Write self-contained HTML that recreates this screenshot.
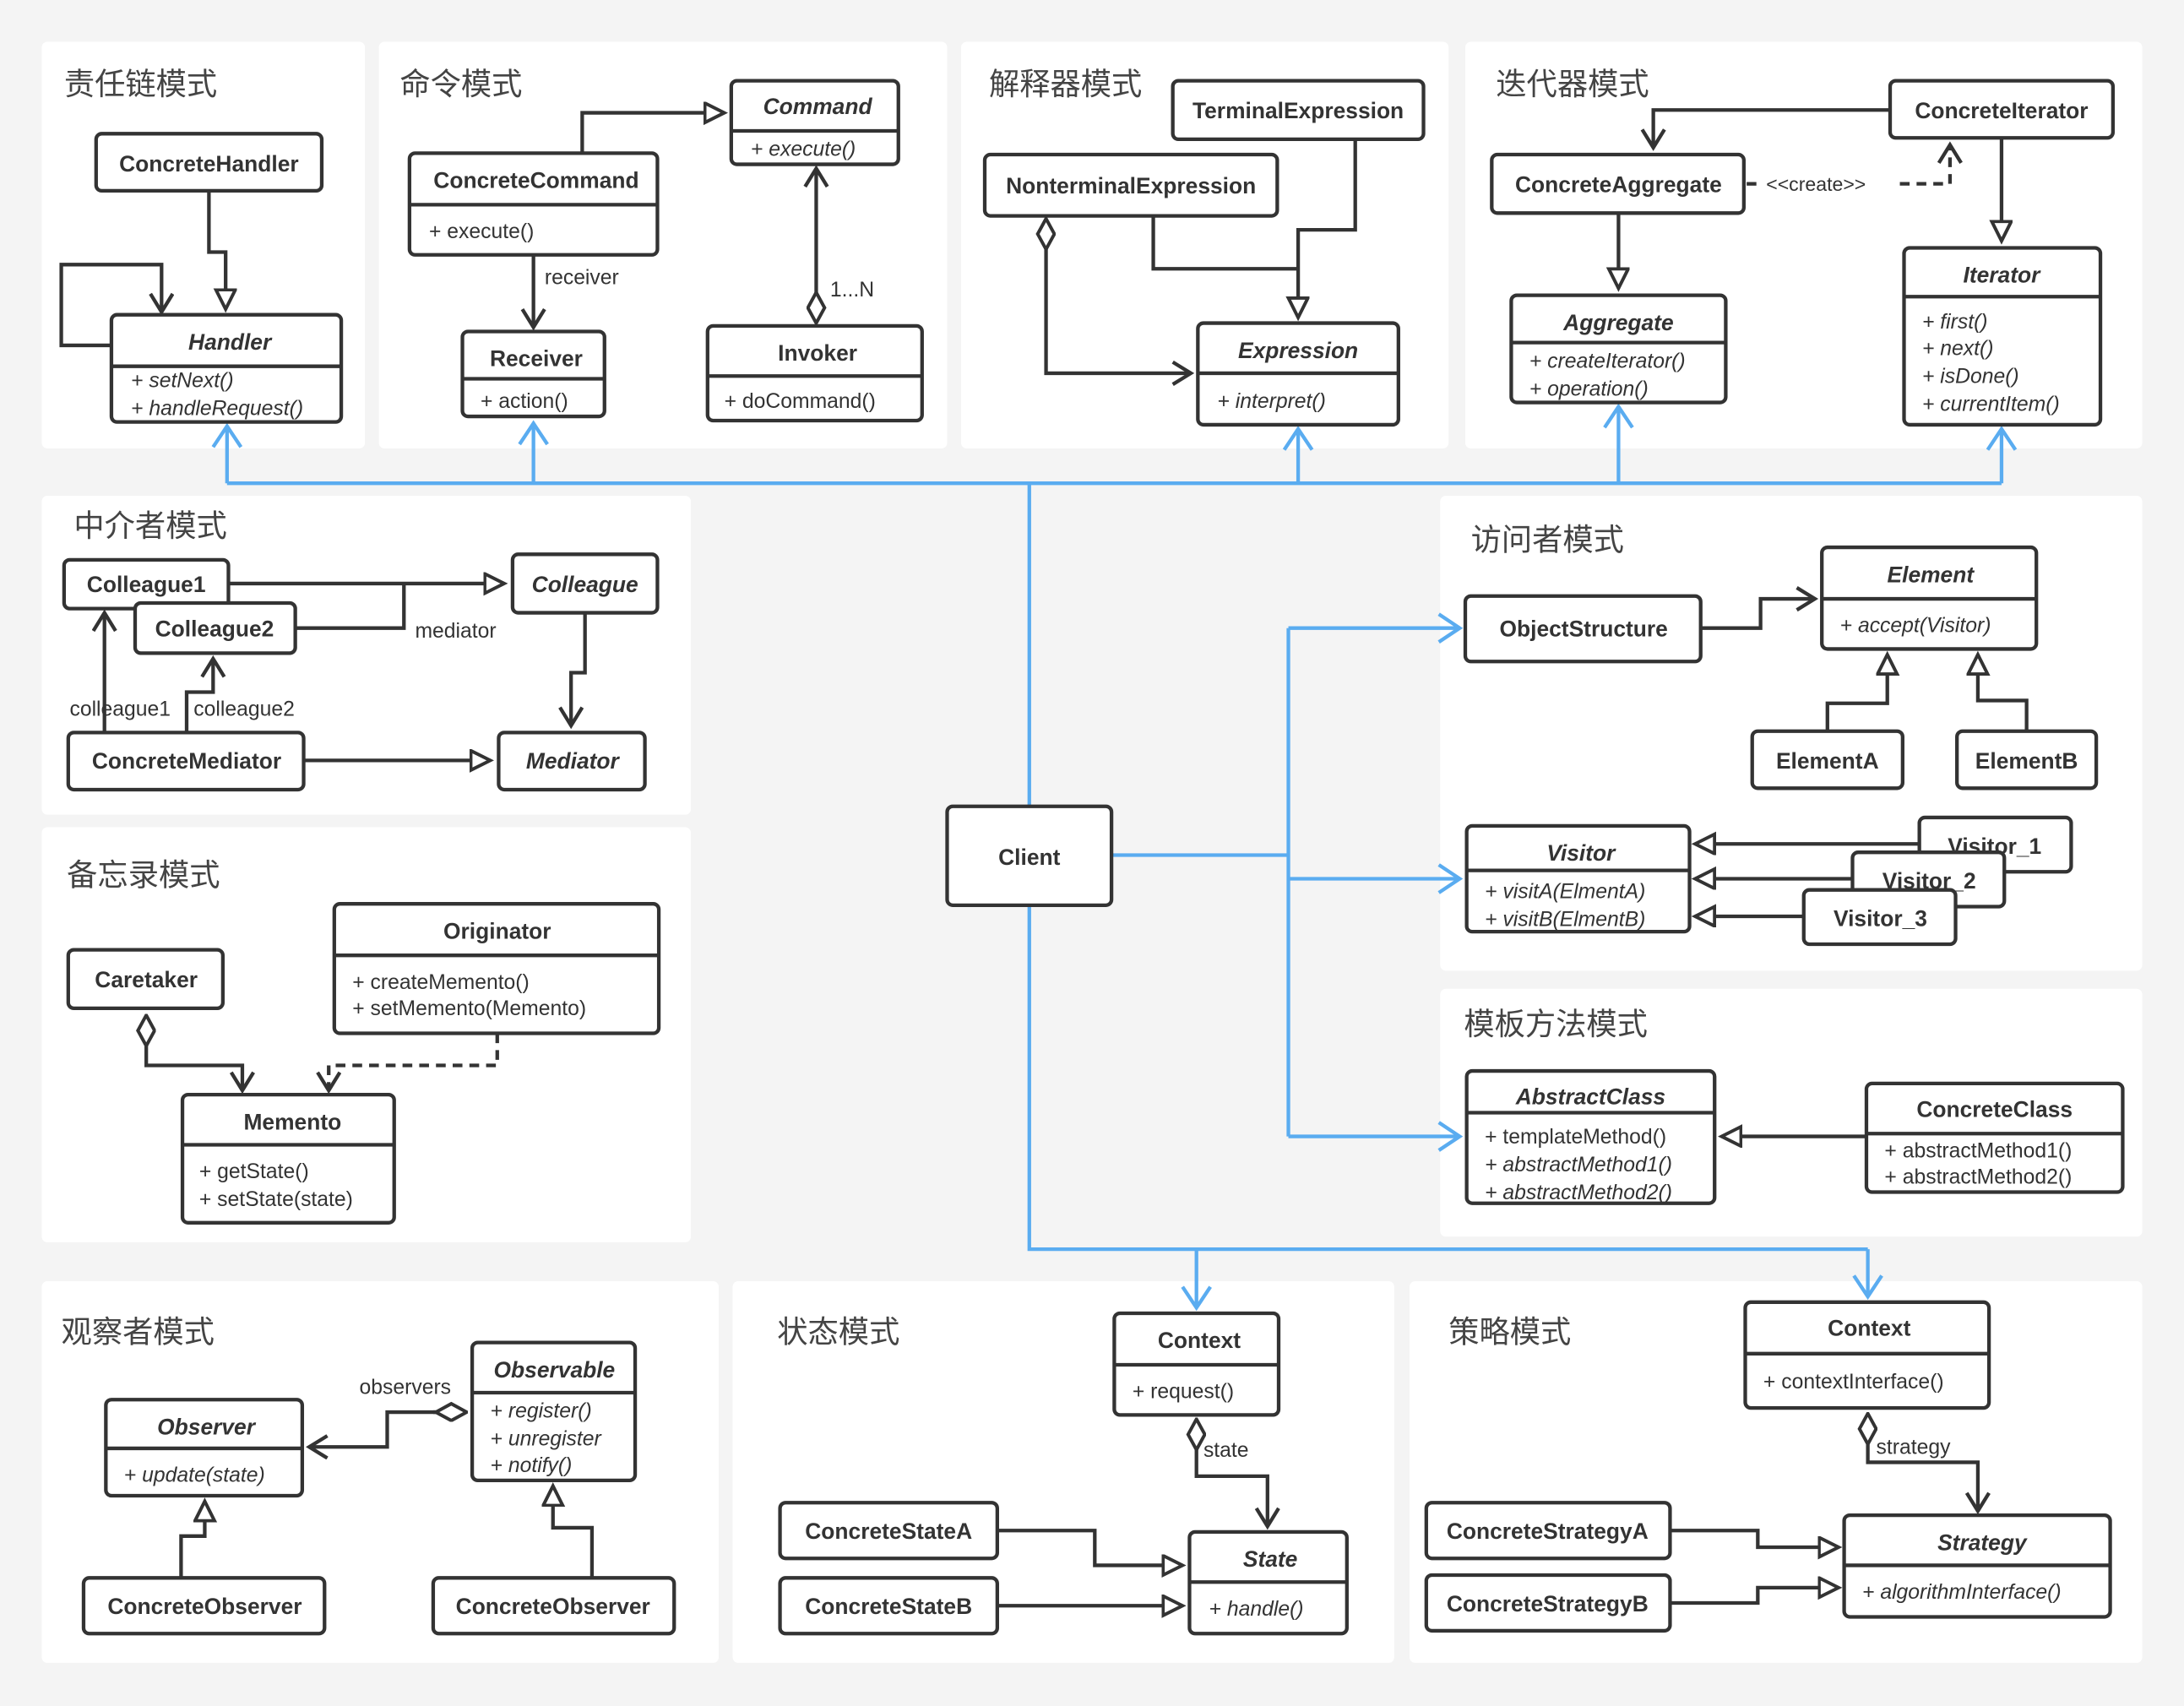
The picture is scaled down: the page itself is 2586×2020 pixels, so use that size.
<!DOCTYPE html>
<html><head><meta charset="utf-8"><style>
html,body{margin:0;padding:0;background:#f4f4f4;}
svg{display:block;}
.p{fill:#fff;}
.b{fill:#fff;stroke:#333;stroke-width:2.6;}
.l{fill:none;stroke:#333;stroke-width:2.6;}
.bl{fill:none;stroke:#5aacf0;stroke-width:2.6;}
.d{stroke-dasharray:7,5;}
text{font-family:"Liberation Sans","Noto Sans CJK SC",sans-serif;fill:#333;}
.n{font-size:16px;font-weight:bold;text-anchor:middle;}
.i{font-style:italic;}
.m{font-size:15px;}
.t{font-size:22px;fill:#444;font-family:"Noto Sans CJK SC","WenQuanYi Zen Hei",sans-serif;}
.s{font-size:15px;}
</style></head><body>
<svg width="2586" height="2020" viewBox="0 0 1568 1225" preserveAspectRatio="none" xmlns="http://www.w3.org/2000/svg">
<defs>
<marker id="tri" markerUnits="userSpaceOnUse" markerWidth="20" markerHeight="20" refX="15" refY="8" orient="auto"><path d="M1,1 L15,8 L1,15 Z" fill="#fff" stroke="#333" stroke-width="2.4"/></marker>
<marker id="arr" markerUnits="userSpaceOnUse" markerWidth="20" markerHeight="20" refX="14" refY="9" orient="auto"><path d="M1,1 L14,9 L1,17" fill="none" stroke="#333" stroke-width="2.6"/></marker>
<marker id="barr" markerUnits="userSpaceOnUse" markerWidth="22" markerHeight="24" refX="16" refY="11" orient="auto"><path d="M1,1 L16,11 L1,21" fill="none" stroke="#5aacf0" stroke-width="2.6"/></marker>
<marker id="dia" markerUnits="userSpaceOnUse" markerWidth="28" markerHeight="16" refX="1" refY="7" orient="auto"><path d="M1,7 L12,1 L23,7 L12,13 Z" fill="#fff" stroke="#333" stroke-width="2.4"/></marker>
</defs>
<rect width="1568" height="1225" fill="#f4f4f4"/>
<!-- panels -->
<rect class="p" x="30" y="30" width="232" height="292" rx="4"/>
<rect class="p" x="272" y="30" width="408" height="292" rx="4"/>
<rect class="p" x="690" y="30" width="350" height="292" rx="4"/>
<rect class="p" x="1052" y="30" width="486" height="292" rx="4"/>
<rect class="p" x="30" y="356" width="466" height="229" rx="4"/>
<rect class="p" x="30" y="594" width="466" height="298" rx="4"/>
<rect class="p" x="1034" y="356" width="504" height="341" rx="4"/>
<rect class="p" x="1034" y="710" width="504" height="178" rx="4"/>
<rect class="p" x="30" y="920" width="486" height="274" rx="4"/>
<rect class="p" x="526" y="920" width="475" height="274" rx="4"/>
<rect class="p" x="1012" y="920" width="526" height="274" rx="4"/>

<!-- titles -->
<text class="t" x="46" y="68">责任链模式</text>
<text class="t" x="287" y="68">命令模式</text>
<text class="t" x="710" y="68">解释器模式</text>
<text class="t" x="1074" y="68">迭代器模式</text>
<text class="t" x="53" y="385">中介者模式</text>
<text class="t" x="48" y="636">备忘录模式</text>
<text class="t" x="1056" y="395">访问者模式</text>
<text class="t" x="1051" y="743">模板方法模式</text>
<text class="t" x="44" y="964">观察者模式</text>
<text class="t" x="558" y="964">状态模式</text>
<text class="t" x="1040" y="964">策略模式</text>

<!-- blue connectors -->
<polyline class="bl" points="163,347 1437,347"/>
<polyline class="bl" points="739,347 739,579"/>
<polyline class="bl" points="163,347 163,306" marker-end="url(#barr)"/>
<polyline class="bl" points="383,347 383,304" marker-end="url(#barr)"/>
<polyline class="bl" points="932,347 932,308" marker-end="url(#barr)"/>
<polyline class="bl" points="1162,347 1162,292" marker-end="url(#barr)"/>
<polyline class="bl" points="1437,347 1437,308" marker-end="url(#barr)"/>
<polyline class="bl" points="798,614 925,614"/>
<polyline class="bl" points="925,451 925,816"/>
<polyline class="bl" points="925,451 1048,451" marker-end="url(#barr)"/>
<polyline class="bl" points="925,631 1048,631" marker-end="url(#barr)"/>
<polyline class="bl" points="925,816 1048,816" marker-end="url(#barr)"/>
<polyline class="bl" points="739,650 739,897 1341,897"/>
<polyline class="bl" points="859,897 859,939" marker-end="url(#barr)"/>
<polyline class="bl" points="1341,897 1341,931" marker-end="url(#barr)"/>
<rect class="b" x="680" y="579" width="118" height="71" rx="4"/>
<text class="n" x="739" y="621">Client</text>

<!-- 责任链 -->
<polyline class="l" points="150,137 150,181 162,181 162,222" marker-end="url(#tri)"/>
<polyline class="l" points="80,248 44,248 44,190 116,190 116,224" marker-end="url(#arr)"/>
<rect class="b" x="69" y="96" width="162" height="41" rx="4"/>
<text class="n" x="150" y="123">ConcreteHandler</text>
<rect class="b" x="80" y="226" width="165" height="77" rx="4"/>
<line class="l" x1="80" y1="263" x2="245" y2="263"/>
<text class="n i" x="165" y="251">Handler</text>
<text class="m i" x="94" y="278">+ setNext()</text>
<text class="m i" x="94" y="298">+ handleRequest()</text>

<!-- 命令 -->
<polyline class="l" points="418,110 418,81 520,81" marker-end="url(#tri)"/>
<polyline class="l" points="383,183 383,235" marker-end="url(#arr)"/>
<text class="s" x="391" y="204">receiver</text>
<polyline class="l" points="586,232 586,121" marker-start="url(#dia)" marker-end="url(#arr)" transform=""/>
<text class="s" x="596" y="213">1...N</text>
<rect class="b" x="294" y="110" width="178" height="73" rx="4"/>
<line class="l" x1="294" y1="147" x2="472" y2="147"/>
<text class="n" x="385" y="135">ConcreteCommand</text>
<text class="m" x="308" y="171">+ execute()</text>
<rect class="b" x="525" y="58" width="120" height="60" rx="4"/>
<line class="l" x1="525" y1="94" x2="645" y2="94"/>
<text class="n i" x="587" y="82">Command</text>
<text class="m i" x="539" y="112">+ execute()</text>
<rect class="b" x="332" y="238" width="102" height="61" rx="4"/>
<line class="l" x1="332" y1="272" x2="434" y2="272"/>
<text class="n" x="385" y="263">Receiver</text>
<text class="m" x="345" y="293">+ action()</text>
<rect class="b" x="508" y="234" width="154" height="68" rx="4"/>
<line class="l" x1="508" y1="270" x2="662" y2="270"/>
<text class="n" x="587" y="259">Invoker</text>
<text class="m" x="520" y="293">+ doCommand()</text>

<!-- 解释器 -->
<polyline class="l" points="973,100 973,165 932,165 932,228" marker-end="url(#tri)"/>
<polyline class="l" points="828,155 828,193 932,193"/>
<polyline class="l" points="751,157 751,268 855,268" marker-start="url(#dia)" marker-end="url(#arr)"/>
<rect class="b" x="842" y="58" width="180" height="42" rx="4"/>
<text class="n" x="932" y="85">TerminalExpression</text>
<rect class="b" x="707" y="111" width="210" height="44" rx="4"/>
<text class="n" x="812" y="139">NonterminalExpression</text>
<rect class="b" x="860" y="232" width="144" height="73" rx="4"/>
<line class="l" x1="860" y1="268" x2="1004" y2="268"/>
<text class="n i" x="932" y="257">Expression</text>
<text class="m i" x="874" y="293">+ interpret()</text>

<!-- 迭代器 -->
<polyline class="l" points="1357,79 1187,79 1187,106" marker-end="url(#arr)"/>
<polyline class="l d" points="1254,132 1264,132"/>
<polyline class="l d" points="1364,132 1400,132 1400,104" marker-end="url(#arr)"/>
<text class="s" x="1268" y="137" style="font-size:14px">&lt;&lt;create&gt;&gt;</text>
<polyline class="l" points="1162,153 1162,207" marker-end="url(#tri)"/>
<polyline class="l" points="1437,99 1437,173" marker-end="url(#tri)"/>
<rect class="b" x="1357" y="58" width="160" height="41" rx="4"/>
<text class="n" x="1437" y="85">ConcreteIterator</text>
<rect class="b" x="1071" y="111" width="181" height="42" rx="4"/>
<text class="n" x="1162" y="138">ConcreteAggregate</text>
<rect class="b" x="1085" y="212" width="154" height="77" rx="4"/>
<line class="l" x1="1085" y1="246" x2="1239" y2="246"/>
<text class="n i" x="1162" y="237">Aggregate</text>
<text class="m i" x="1098" y="264">+ createIterator()</text>
<text class="m i" x="1098" y="284">+ operation()</text>
<rect class="b" x="1367" y="178" width="141" height="127" rx="4"/>
<line class="l" x1="1367" y1="213" x2="1508" y2="213"/>
<text class="n i" x="1437" y="203">Iterator</text>
<text class="m i" x="1380" y="236">+ first()</text>
<text class="m i" x="1380" y="255">+ next()</text>
<text class="m i" x="1380" y="275">+ isDone()</text>
<text class="m i" x="1380" y="295">+ currentItem()</text>

<!-- 中介者 -->
<polyline class="l" points="164,419 362,419" marker-end="url(#tri)"/>
<polyline class="l" points="212,451 290,451 290,419"/>
<text class="s" x="298" y="458">mediator</text>
<polyline class="l" points="420,440 420,483 410,483 410,521" marker-end="url(#arr)"/>
<polyline class="l" points="218,546 352,546" marker-end="url(#tri)"/>
<polyline class="l" points="75,526 75,440" marker-end="url(#arr)"/>
<polyline class="l" points="134,526 134,497 153,497 153,473" marker-end="url(#arr)"/>
<text class="s" x="50" y="514">colleague1</text>
<text class="s" x="139" y="514">colleague2</text>
<rect class="b" x="46" y="402" width="118" height="35" rx="4"/>
<text class="n" x="105" y="425">Colleague1</text>
<rect class="b" x="97" y="433" width="115" height="36" rx="4"/>
<text class="n" x="154" y="457">Colleague2</text>
<rect class="b" x="368" y="398" width="104" height="42" rx="4"/>
<text class="n i" x="420" y="425">Colleague</text>
<rect class="b" x="49" y="526" width="169" height="41" rx="4"/>
<text class="n" x="134" y="552">ConcreteMediator</text>
<rect class="b" x="358" y="526" width="105" height="41" rx="4"/>
<text class="n i" x="411" y="552">Mediator</text>

<!-- 备忘录 -->
<polyline class="l" points="105,729 105,765 174,765 174,783" marker-start="url(#dia)" marker-end="url(#arr)"/>
<polyline class="l d" points="357,742 357,765 236,765 236,783" marker-end="url(#arr)"/>
<rect class="b" x="49" y="682" width="111" height="42" rx="4"/>
<text class="n" x="105" y="709">Caretaker</text>
<rect class="b" x="240" y="649" width="233" height="93" rx="4"/>
<line class="l" x1="240" y1="686" x2="473" y2="686"/>
<text class="n" x="357" y="674">Originator</text>
<text class="m" x="253" y="710">+ createMemento()</text>
<text class="m" x="253" y="729">+ setMemento(Memento)</text>
<rect class="b" x="131" y="786" width="152" height="92" rx="4"/>
<line class="l" x1="131" y1="822" x2="283" y2="822"/>
<text class="n" x="210" y="811">Memento</text>
<text class="m" x="143" y="846">+ getState()</text>
<text class="m" x="143" y="866">+ setState(state)</text>

<!-- 访问者 -->
<polyline class="l" points="1221,451 1264,451 1264,430 1303,430" marker-end="url(#arr)"/>
<polyline class="l" points="1312,525 1312,505 1355,505 1355,470" marker-end="url(#tri)"/>
<polyline class="l" points="1455,525 1455,503 1420,503 1420,470" marker-end="url(#tri)"/>
<polyline class="l" points="1378,606 1217,606" marker-end="url(#tri)"/>
<polyline class="l" points="1330,631 1217,631" marker-end="url(#tri)"/>
<polyline class="l" points="1295,658 1217,658" marker-end="url(#tri)"/>
<rect class="b" x="1052" y="428" width="169" height="47" rx="4"/>
<text class="n" x="1137" y="457">ObjectStructure</text>
<rect class="b" x="1308" y="393" width="154" height="73" rx="4"/>
<line class="l" x1="1308" y1="430" x2="1462" y2="430"/>
<text class="n i" x="1386" y="418">Element</text>
<text class="m i" x="1321" y="454">+ accept(Visitor)</text>
<rect class="b" x="1258" y="525" width="108" height="41" rx="4"/>
<text class="n" x="1312" y="552">ElementA</text>
<rect class="b" x="1405" y="525" width="100" height="41" rx="4"/>
<text class="n" x="1455" y="552">ElementB</text>
<rect class="b" x="1053" y="593" width="160" height="76" rx="4"/>
<line class="l" x1="1053" y1="625" x2="1213" y2="625"/>
<text class="n i" x="1135" y="618">Visitor</text>
<text class="m i" x="1066" y="645">+ visitA(ElmentA)</text>
<text class="m i" x="1066" y="665">+ visitB(ElmentB)</text>
<rect class="b" x="1378" y="587" width="109" height="39" rx="4"/>
<text class="n" x="1432" y="613">Visitor_1</text>
<rect class="b" x="1330" y="612" width="109" height="39" rx="4"/>
<text class="n" x="1385" y="638">Visitor_2</text>
<rect class="b" x="1295" y="639" width="109" height="39" rx="4"/>
<text class="n" x="1350" y="665">Visitor_3</text>

<!-- 模板 -->
<polyline class="l" points="1340,816 1236,816" marker-end="url(#tri)"/>
<rect class="b" x="1053" y="769" width="178" height="95" rx="4"/>
<line class="l" x1="1053" y1="799" x2="1231" y2="799"/>
<text class="n i" x="1142" y="793">AbstractClass</text>
<text class="m" x="1066" y="821">+ templateMethod()</text>
<text class="m i" x="1066" y="841">+ abstractMethod1()</text>
<text class="m i" x="1066" y="861">+ abstractMethod2()</text>
<rect class="b" x="1340" y="778" width="184" height="78" rx="4"/>
<line class="l" x1="1340" y1="814" x2="1524" y2="814"/>
<text class="n" x="1432" y="802">ConcreteClass</text>
<text class="m" x="1353" y="831">+ abstractMethod1()</text>
<text class="m" x="1353" y="850">+ abstractMethod2()</text>

<!-- 观察者 -->
<polyline class="l" points="335,1014 278,1014 278,1039 222,1039" marker-start="url(#dia)" marker-end="url(#arr)"/>
<polyline class="l" points="335,1014 311,1014" marker-start="url(#dia)"/>
<text class="s" x="258" y="1001">observers</text>
<polyline class="l" points="130,1133 130,1103 147,1103 147,1078" marker-end="url(#tri)"/>
<polyline class="l" points="425,1133 425,1097 397,1097 397,1067" marker-end="url(#tri)"/>
<rect class="b" x="339" y="964" width="117" height="99" rx="4"/>
<line class="l" x1="339" y1="1000" x2="456" y2="1000"/>
<text class="n i" x="398" y="989">Observable</text>
<text class="m i" x="352" y="1018">+ register()</text>
<text class="m i" x="352" y="1038">+ unregister</text>
<text class="m i" x="352" y="1057">+ notify()</text>
<rect class="b" x="76" y="1005" width="141" height="69" rx="4"/>
<line class="l" x1="76" y1="1040" x2="217" y2="1040"/>
<text class="n i" x="148" y="1030">Observer</text>
<text class="m i" x="89" y="1064">+ update(state)</text>
<rect class="b" x="60" y="1133" width="173" height="40" rx="4"/>
<text class="n" x="147" y="1159">ConcreteObserver</text>
<rect class="b" x="311" y="1133" width="173" height="40" rx="4"/>
<text class="n" x="397" y="1159">ConcreteObserver</text>

<!-- 状态 -->
<polyline class="l" points="859,1019 859,1060 910,1060 910,1096" marker-start="url(#dia)" marker-end="url(#arr)"/>
<text class="s" x="864" y="1046">state</text>
<polyline class="l" points="716,1099 786,1099 786,1124 849,1124" marker-end="url(#tri)"/>
<polyline class="l" points="716,1153 849,1153" marker-end="url(#tri)"/>
<rect class="b" x="800" y="943" width="118" height="73" rx="4"/>
<line class="l" x1="800" y1="980" x2="918" y2="980"/>
<text class="n" x="861" y="968">Context</text>
<text class="m" x="813" y="1004">+ request()</text>
<rect class="b" x="854" y="1100" width="113" height="73" rx="4"/>
<line class="l" x1="854" y1="1136" x2="967" y2="1136"/>
<text class="n i" x="912" y="1125">State</text>
<text class="m i" x="868" y="1160">+ handle()</text>
<rect class="b" x="560" y="1079" width="156" height="40" rx="4"/>
<text class="n" x="638" y="1105">ConcreteStateA</text>
<rect class="b" x="560" y="1133" width="156" height="40" rx="4"/>
<text class="n" x="638" y="1159">ConcreteStateB</text>

<!-- 策略 -->
<polyline class="l" points="1341,1015 1341,1050 1420,1050 1420,1085" marker-start="url(#dia)" marker-end="url(#arr)"/>
<text class="s" x="1347" y="1044">strategy</text>
<polyline class="l" points="1199,1099 1262,1099 1262,1111 1320,1111" marker-end="url(#tri)"/>
<polyline class="l" points="1199,1151 1262,1151 1262,1140 1320,1140" marker-end="url(#tri)"/>
<rect class="b" x="1253" y="935" width="175" height="76" rx="4"/>
<line class="l" x1="1253" y1="972" x2="1428" y2="972"/>
<text class="n" x="1342" y="959">Context</text>
<text class="m" x="1266" y="997">+ contextInterface()</text>
<rect class="b" x="1324" y="1088" width="191" height="73" rx="4"/>
<line class="l" x1="1324" y1="1124" x2="1515" y2="1124"/>
<text class="n i" x="1423" y="1113">Strategy</text>
<text class="m i" x="1337" y="1148">+ algorithmInterface()</text>
<rect class="b" x="1024" y="1079" width="175" height="40" rx="4"/>
<text class="n" x="1111" y="1105">ConcreteStrategyA</text>
<rect class="b" x="1024" y="1131" width="175" height="40" rx="4"/>
<text class="n" x="1111" y="1157">ConcreteStrategyB</text>
</svg>
</body></html>
